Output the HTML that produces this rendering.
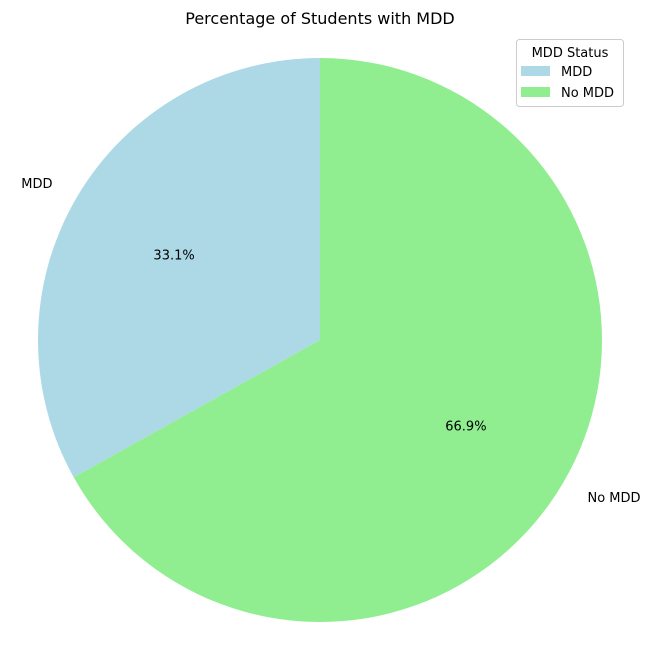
<!DOCTYPE html>
<html><head><meta charset="utf-8"><style>
body{margin:0;background:#fff;}
svg{display:block;font-family:"DejaVu Sans","Liberation Sans",sans-serif;}
</style></head><body>
<svg id="chart" width="654" height="658">
<text x="320" y="24" text-anchor="middle" font-size="16">Percentage of Students with MDD</text>
<g id="slices"></g>
<g>
<rect x="516.5" y="39.5" width="107" height="67" rx="3" fill="#fff" stroke="#ccc"/>
<text x="570" y="57" text-anchor="middle" font-size="13">MDD Status</text>
<g id="legend-items"></g>
</g>
</svg>
<script>
const categories = ["MDD", "No MDD"];
const values = [33.1, 66.9];
const colors = ["#add8e6", "#90ee90"];
const ns = "http://www.w3.org/2000/svg";
const cx = 320, cy = 340, r = 282;
const total = values.reduce((a,b)=>a+b,0);
const g = document.getElementById('slices');
const lg = document.getElementById('legend-items');
let ang = 90;
function pt(a, rr){const t=a*Math.PI/180;return [cx+rr*Math.cos(t), cy-rr*Math.sin(t)];}
values.forEach((v,i)=>{
  const sweep = v/total*360;
  const a0 = ang, a1 = ang+sweep;
  const p0 = pt(a0,r), p1 = pt(a1,r);
  const path = document.createElementNS(ns,'path');
  path.setAttribute('d',`M${cx},${cy} L${p0[0]},${p0[1]} A${r},${r} 0 ${sweep>180?1:0} 0 ${p1[0]},${p1[1]} Z`);
  path.setAttribute('fill',colors[i]);
  
  
  g.appendChild(path);
  const mid = (a0+a1)/2;
  const lp = pt(mid, r*1.1);
  const lt = document.createElementNS(ns,'text');
  lt.setAttribute('x',lp[0]); lt.setAttribute('y',lp[1]+5);
  lt.setAttribute('font-size','13');
  lt.setAttribute('text-anchor', Math.cos(mid*Math.PI/180)<0?'end':'start');
  lt.textContent = categories[i];
  
  
  g.appendChild(lt);
  const pp = pt(mid, r*0.6);
  const pc = document.createElementNS(ns,'text');
  pc.setAttribute('x',pp[0]); pc.setAttribute('y',pp[1]+5);
  pc.setAttribute('font-size','13'); pc.setAttribute('text-anchor','middle');
  pc.textContent = (v/total*100).toFixed(1)+'%';
  
  
  g.appendChild(pc);
  const y = 66 + i*21;
  const sw = document.createElementNS(ns,'rect');
  sw.setAttribute('x',521); sw.setAttribute('y',y); sw.setAttribute('width',29); sw.setAttribute('height',10);
  sw.setAttribute('fill',colors[i]);
  
  
  lg.appendChild(sw);
  const t = document.createElementNS(ns,'text');
  t.setAttribute('x',561); t.setAttribute('y',y+10); t.setAttribute('font-size','13');
  t.textContent = categories[i];
  
  
  lg.appendChild(t);
  ang = a1;
});
</script>
</body></html>
